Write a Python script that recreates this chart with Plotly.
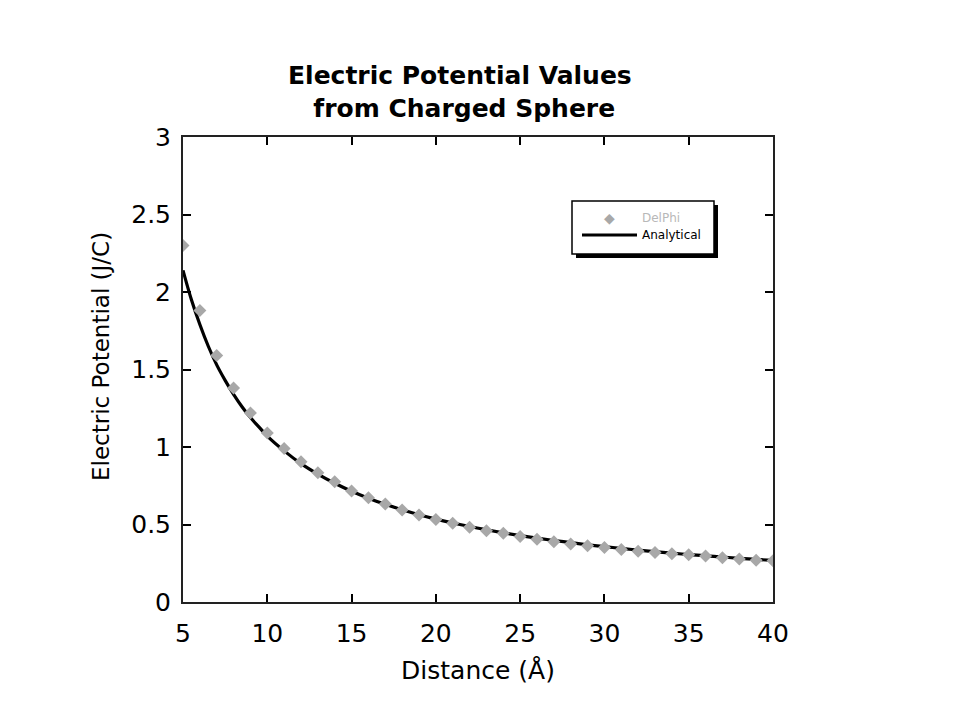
import plotly.graph_objects as go

# ---- data ----
delphi_x = list(range(5, 41))
delphi_y = [2.30, 1.88, 1.59, 1.38, 1.22, 1.09, 0.99, 0.905, 0.834, 0.776,
            0.716, 0.673, 0.632, 0.594, 0.561, 0.533, 0.508, 0.482, 0.460, 0.443,
            0.423, 0.405, 0.389, 0.374, 0.363, 0.351, 0.338, 0.328, 0.320, 0.312,
            0.305, 0.296, 0.286, 0.277, 0.270, 0.266]

analytic_x = [5, 5.5, 6, 6.5, 7, 7.5, 8, 8.5, 9, 9.5, 10, 11, 12, 13, 14, 15, 16,
              17, 18, 19, 20, 21, 22, 23, 24, 25, 26, 27, 28, 29, 30, 31, 32, 33,
              34, 35, 36, 37, 38, 39, 40]
analytic_y = [2.14, 1.95, 1.79, 1.65, 1.53, 1.43, 1.34, 1.26, 1.19, 1.13, 1.07,
              0.975, 0.893, 0.825, 0.766, 0.715, 0.670, 0.630, 0.595, 0.563, 0.535,
              0.510, 0.487, 0.466, 0.446, 0.428, 0.412, 0.397, 0.383, 0.369, 0.357,
              0.346, 0.335, 0.325, 0.315, 0.306, 0.298, 0.290, 0.282, 0.275, 0.268]

x_ticks = [5, 10, 15, 20, 25, 30, 35, 40]
y_ticks = [0, 0.5, 1, 1.5, 2, 2.5, 3]
y_tick_text = ["0", "0.5", "1", "1.5", "2", "2.5", "3"]

FONT = "DejaVu Sans, Liberation Sans, Arial, sans-serif"

# plot area on screen (page has an 8px body margin)
OFF = 8
L, R, T, B = 183, 773, 137, 602
W, H = 952, 712


def px_x(p):
    return (p - L) / (R - L)


def px_y(p):
    return (B - p) / (B - T)


fig = go.Figure()

fig.add_trace(go.Scatter(
    x=analytic_x, y=analytic_y, mode="lines", name="Analytical",
    line=dict(color="black", width=3.2, shape="spline"),
))
fig.add_trace(go.Scatter(
    x=delphi_x, y=delphi_y, mode="markers", name="DelPhi",
    marker=dict(symbol="diamond", size=10, color="#a8a8a8"),
))

shapes = [
    # legend shadow
    dict(type="rect", xref="paper", yref="paper",
         x0=px_x(576), x1=px_x(718), y0=px_y(258), y1=px_y(205),
         fillcolor="black", line=dict(width=0), layer="above"),
    # legend box
    dict(type="rect", xref="paper", yref="paper",
         x0=px_x(572), x1=px_x(714), y0=px_y(254), y1=px_y(201),
         fillcolor="white", line=dict(color="black", width=1.5), layer="above"),
    # legend line sample
    dict(type="line", xref="paper", yref="paper",
         x0=px_x(582), x1=px_x(637), y0=px_y(235), y1=px_y(235),
         line=dict(color="black", width=3), layer="above"),
]

annotations = [
    dict(text="<b>Electric Potential Values</b><br><b> from Charged Sphere</b>",
         xref="paper", yref="paper", x=px_x(460), y=px_y(92),
         xanchor="center", yanchor="middle", showarrow=False, align="center",
         font=dict(family=FONT, size=25, color="black")),
    dict(text="Electric Potential (J/C)", xref="paper", yref="paper",
         x=px_x(101), y=px_y(357), xanchor="center", yanchor="middle",
         textangle=-90, showarrow=False,
         font=dict(family=FONT, size=23, color="black")),
    dict(text="◆", xref="paper", yref="paper", x=px_x(609), y=px_y(218),
         xanchor="center", yanchor="middle", showarrow=False,
         font=dict(family=FONT, size=14, color="#a8a8a8")),
    dict(text="DelPhi", xref="paper", yref="paper", x=px_x(640), y=px_y(218),
         xanchor="left", yanchor="middle", showarrow=False,
         font=dict(family=FONT, size=12, color="#b8b8b8")),
    dict(text="Analytical", xref="paper", yref="paper", x=px_x(640), y=px_y(235),
         xanchor="left", yanchor="middle", showarrow=False,
         font=dict(family=FONT, size=12, color="black")),
]

fig.update_layout(
    width=W, height=H,
    margin=dict(l=L - OFF, r=W - (R - OFF), t=T - OFF, b=H - (B - OFF)),
    paper_bgcolor="white", plot_bgcolor="white",
    font=dict(family=FONT, color="black"),
    showlegend=False,
    shapes=shapes,
    annotations=annotations,
    xaxis=dict(
        range=[5, 40], tickvals=x_ticks, ticks="inside", ticklen=8,
        tickwidth=1.5, tickcolor="black", showline=True, linecolor="#222",
        linewidth=2, mirror="ticks", showgrid=False, zeroline=False,
        tickfont=dict(family=FONT, size=25, color="black"),
        title=dict(text="Distance (Å)", font=dict(family=FONT, size=25, color="black"),
                   standoff=14),
        ticklabelstandoff=8,
    ),
    yaxis=dict(
        range=[0, 3], tickvals=y_ticks, ticktext=y_tick_text, ticks="inside",
        ticklen=8, tickwidth=1.5, tickcolor="black", showline=True,
        linecolor="#222", linewidth=2, mirror="ticks", showgrid=False,
        zeroline=False,
        tickfont=dict(family=FONT, size=25, color="black"),
        ticklabelstandoff=5,
    ),
)

fig.write_html("out.html")
